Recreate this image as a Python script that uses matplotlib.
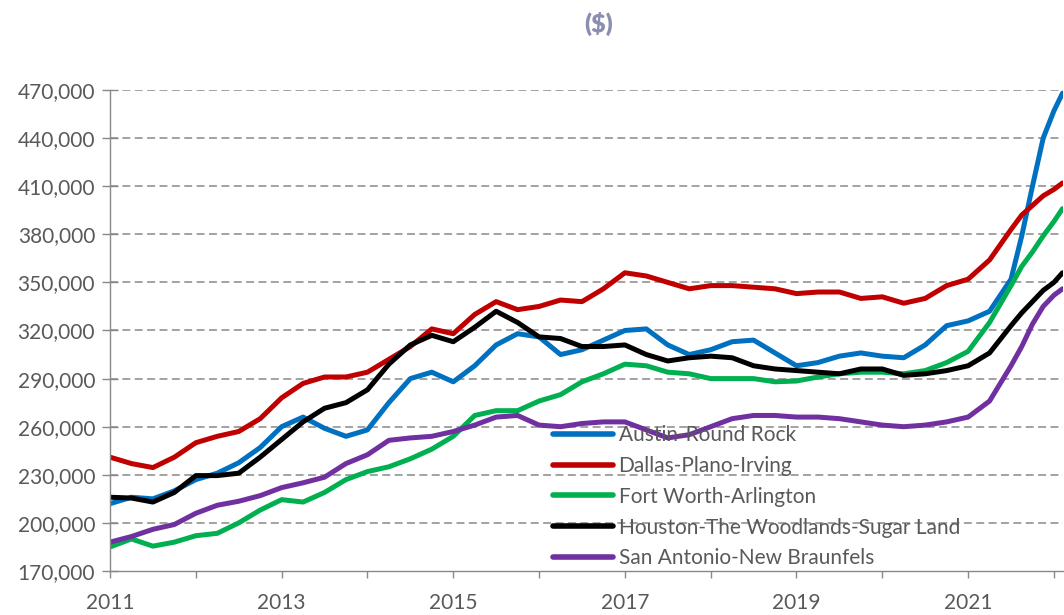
import numpy as np
import matplotlib
matplotlib.use("Agg")
import matplotlib.pyplot as plt
from matplotlib.ticker import FuncFormatter, FixedLocator

plt.rcParams['font.family'] = ['Lato', 'DejaVu Sans']

# quarterly points 2011.0 .. 2021.5, then finer steps at the end
dates = list(np.arange(2011.0, 2021.51, 0.25)) + [2021.625, 2021.75, 2021.875, 2022.0, 2022.1]

# median price, thousands of $
austin = [212, 216, 215, 220, 227, 231, 237.5, 247, 260, 266, 259, 254, 258, 275, 290, 294,
          288, 298, 311, 318, 316, 305, 308, 314, 320, 321, 311, 305, 308, 313, 314, 306,
          298, 300, 304, 306, 304, 303, 311, 323, 326, 332, 352,
          379, 410, 440, 457, 468]
dallas = [241, 237, 234.5, 241, 250, 254, 257, 265, 278, 287, 291, 291, 294, 302, 310, 321,
          318, 330, 338, 333, 335, 339, 338, 346, 356, 354, 350, 346, 348, 348, 347, 346,
          343, 344, 344, 340, 341, 337, 340, 348, 352, 364, 383,
          392, 398, 404, 408, 412]
fort_worth = [185, 190, 185.5, 188, 192, 193.5, 200, 208, 214.5, 213, 219, 227, 232, 235, 240, 246,
              254, 267, 270, 270, 276, 280, 288, 293, 299, 298, 294, 293, 290, 290, 290, 288,
              288.5, 291, 293, 294, 294, 293, 295, 300, 307, 325, 348,
              360, 369, 379, 388, 396]
houston = [216, 215.5, 213, 219, 229.5, 229.5, 231, 241, 252, 263, 271.5, 275, 283, 299, 311, 317,
           313, 322, 332, 325, 316, 315, 310, 310, 311, 305, 301, 303, 304, 303, 298, 296,
           295, 294, 293, 296, 296, 292, 293, 295, 298, 306, 323,
           331, 338, 345, 350, 356]
san_antonio = [188, 191.5, 196, 199, 206, 211, 213.5, 217, 222, 225, 228.5, 237, 242.5, 251.5, 253, 254,
               257, 261, 266, 267, 261, 260, 262, 263, 263, 258, 253, 255, 260, 265, 267, 267,
               266, 266, 265, 263, 261, 260, 261, 263, 266, 276, 298,
               310, 324, 335, 342, 346]

names = ["Austin-Round Rock", "Dallas-Plano-Irving", "Fort Worth-Arlington",
         "Houston-The Woodlands-Sugar Land", "San Antonio-New Braunfels"]
colors = ["#0070C0", "#C00000", "#00B050", "#000000", "#7030A0"]
series = [austin, dallas, fort_worth, houston, san_antonio]

yticks = list(range(170000, 470001, 30000))
year_ticks = list(range(2011, 2023))

fig = plt.figure(figsize=(10.64, 6.15), dpi=100)
ax = fig.add_axes([110 / 1064, 1 - 571 / 615, (1062.5 - 110) / 1064, (571 - 90) / 615])

for vals, name, c in zip(series, names, colors):
    ax.plot(dates, np.array(vals) * 1000, color=c, lw=3.6, label=name,
            solid_joinstyle='round', solid_capstyle='round')

ax.set_xlim(2011.0, 2022.1)
ax.set_ylim(170000, 470000)

grey = "#898989"
txt = "#595959"
for y in yticks[1:]:
    ax.axhline(y, color=grey, lw=1.1, ls=(0, (5.2, 2.9)), zorder=0)

ax.yaxis.set_major_locator(FixedLocator(yticks))
ax.yaxis.set_major_formatter(FuncFormatter(lambda v, p: f"{v:,.0f}"))
ax.xaxis.set_major_locator(FixedLocator(year_ticks))
ax.set_xticklabels([str(y) if y % 2 == 1 else "" for y in year_ticks])

ax.tick_params(axis='y', direction='inout', length=11.5, width=1, color=grey,
               labelsize=15, labelcolor=txt, pad=5)
ax.tick_params(axis='x', direction='out', length=5, width=1, color=grey,
               labelsize=15, labelcolor=txt, pad=11)

for s in ['top', 'right']:
    ax.spines[s].set_visible(False)
for s in ['left', 'bottom']:
    ax.spines[s].set_color(grey)
    ax.spines[s].set_linewidth(1)

leg = ax.legend(loc='upper left', bbox_to_anchor=(553 / 1064, 1 - 425 / 615),
                bbox_transform=fig.transFigure, frameon=False, fontsize=15,
                handlelength=2.9, handletextpad=0.25, labelspacing=0.52,
                borderpad=0, borderaxespad=0)
for t in leg.get_texts():
    t.set_color(txt)
for h in leg.get_lines():
    h.set_linewidth(4)

fig.text(599 / 1064, 1 - 24 / 615, "($)", ha='center', va='center', fontsize=18,
         fontweight='heavy', color="#8B8FAF")

fig.savefig("out.png", dpi=100)
